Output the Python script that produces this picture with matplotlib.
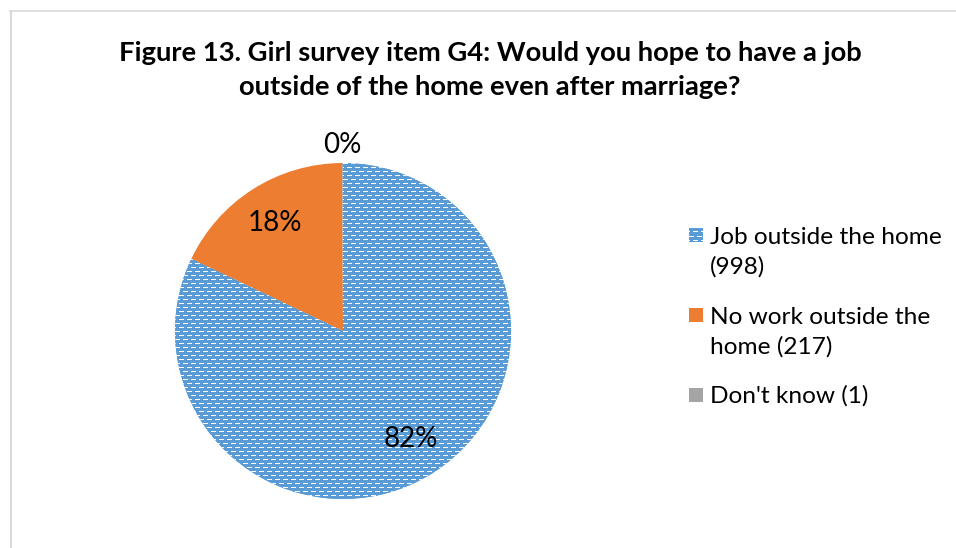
import numpy as np
import matplotlib.pyplot as plt
from matplotlib.patches import Rectangle
from matplotlib.lines import Line2D

# Survey responses for item G4
labels = ["Job outside the home\n(998)", "No work outside the\nhome (217)", "Don't know (1)"]
counts = [998, 217, 1]
colors = ["#5B9BD5", "#ED7D31", "#A5A5A5"]

title = "Figure 13. Girl survey item G4: Would you hope to have a job\noutside of the home even after marriage?"

plt.rcParams["font.family"] = ["Lato", "DejaVu Sans"]

W, H = 956, 548
fig = plt.figure(figsize=(W / 100, H / 100), dpi=100)


def fx(px):
    return px / W


def fy(py):
    return 1 - py / H


# light frame around the chart area
fig.add_artist(Line2D([fx(10), 1], [fy(11), fy(11)], color="#D9D9D9", lw=1.2))
fig.add_artist(Line2D([fx(10.5), fx(10.5)], [0, fy(11)], color="#D9D9D9", lw=1.5))

fig.text(fx(490), fy(70), title, ha="center", va="center", fontsize=19.7,
         fontweight="bold", linespacing=1.5)

# pie axes: centre (343, 331) px, radius 168 px
cx, cy, r = 343, 331, 168
ax = fig.add_axes([fx(cx - r), fy(cy + r), 2 * r / W, 2 * r / H])
ax.axis("off")

wedges, _ = ax.pie(counts, colors=colors, startangle=90, counterclock=False,
                   radius=1, wedgeprops=dict(linewidth=0))
ax.set_aspect("auto")

# brick-like dash texture for the first slice
blue = np.array([0x5B, 0x9B, 0xD5]) / 255
tile = np.ones((8, 8, 3)) * blue
tile[0, 0:5] = 1
tile[4, 4:8] = 1
tile[4, 0:1] = 1
tex = np.tile(tile, (2 * r // 8 + 2, 2 * r // 8 + 2, 1))
im = ax.imshow(tex, extent=(-1, -1 + tex.shape[1] / r, 1 - tex.shape[0] / r, 1),
               interpolation="nearest", zorder=2, aspect="auto")
im.set_clip_path(wedges[0])
ax.set_xlim(-1, 1)
ax.set_ylim(-1, 1)

# percentage labels placed at each wedge's mid angle
total = sum(counts)
for w, c in zip(wedges, counts):
    mid = np.deg2rad((w.theta1 + w.theta2) / 2)
    frac = c / total
    dist = 0.76 if frac > 0.05 else 1.11
    ax.text(dist * np.cos(mid), dist * np.sin(mid), f"{frac * 100:.0f}%",
            ha="center", va="center", fontsize=20, zorder=5, clip_on=False)

# legend drawn by hand so the key lines up with the first text line
line_px = 31
tex_small = np.tile(tile, (3, 3, 1))[:14, :14]
for i, (lab, col) in enumerate(zip(labels, colors)):
    base = 243 + 80 * i
    if i == 0:
        kax = fig.add_axes([fx(689), fy(base - 1), 14 / W, 14 / H])
        kax.imshow(tex_small, interpolation="nearest", aspect="auto")
        kax.axis("off")
    else:
        fig.add_artist(Rectangle((fx(689), fy(base - 1)), 14 / W, 14 / H,
                                 facecolor=col, edgecolor="none"))
    # va="baseline" pins the last line, so push down by the extra lines
    extra = lab.count("\n") * line_px
    fig.text(fx(710), fy(base + extra), lab, ha="left", va="baseline",
             fontsize=17.6, linespacing=1.5)

fig.savefig("out.png", dpi=100)
